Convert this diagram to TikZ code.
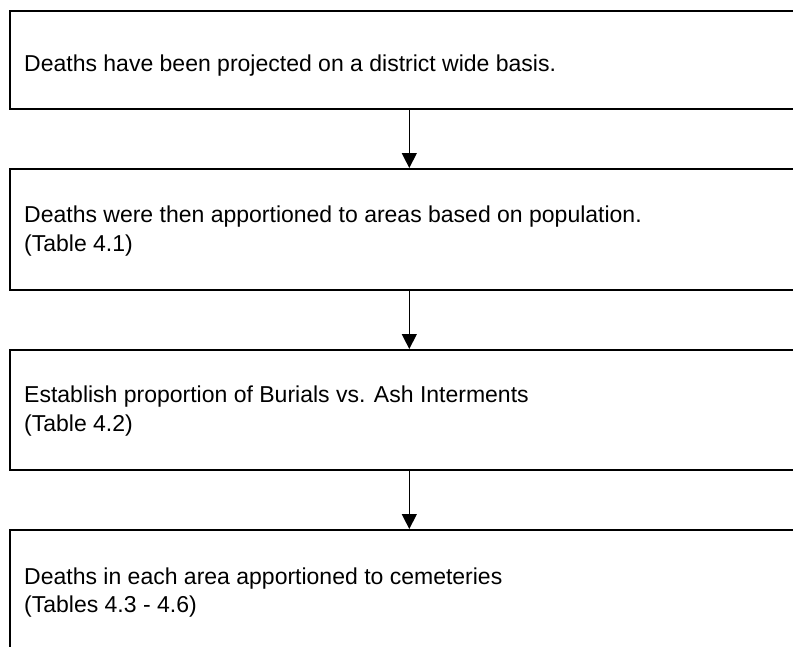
\documentclass[tikz,border=0pt]{standalone}
\usepackage{fontspec}
\setmainfont{Liberation Sans}
\usetikzlibrary{arrows.meta}
\begin{document}
\begin{tikzpicture}[x=1pt,y=-1pt,
  box/.style={draw=black,line width=2pt,minimum width=820pt,anchor=north west,inner sep=0pt},
  txt/.style={anchor=base west,inner sep=0pt,font=\fontsize{23}{28}\selectfont},
  arr/.style={draw=black,line width=1.2pt,-{Triangle[width=15pt,length=15pt]}}]
\useasboundingbox (0,0) rectangle (793,646);
\clip (0,0) rectangle (793,646);
\fill[white] (0,0) rectangle (793,646);
\node[box,minimum height=98pt]  (b1) at (9,10) {};
\node[box,minimum height=121pt] (b2) at (9,168) {};
\node[box,minimum height=120pt] (b3) at (9,349) {};
\node[box,minimum height=130pt] (b4) at (9,529) {};
\coordinate (ax) at (409.3,0);
\node[txt] (t1) at (24,71.7) {Deaths have been projected on a district wide basis.};
\node[txt] (t2a) at (24,222.5) {Deaths were then apportioned to areas based on population.};
\node[txt] (t2b) at (24,251) {(Table 4.1)};
\node[txt] (t3a) at (24,402.5) {Establish proportion of Burials vs. Ash Interments};
\node[txt] (t3b) at (24,431.5) {(Table 4.2)};
\node[txt] (t4a) at (24,584) {Deaths in each area apportioned to cemeteries};
\node[txt] (t4b) at (24,612.5) {(Tables 4.3 - 4.6)};
\draw[arr] (b1.south -| ax) -- (b2.north -| ax);
\draw[arr] (b2.south -| ax) -- (b3.north -| ax);
\draw[arr] (b3.south -| ax) -- (b4.north -| ax);
\end{tikzpicture}
\end{document}
